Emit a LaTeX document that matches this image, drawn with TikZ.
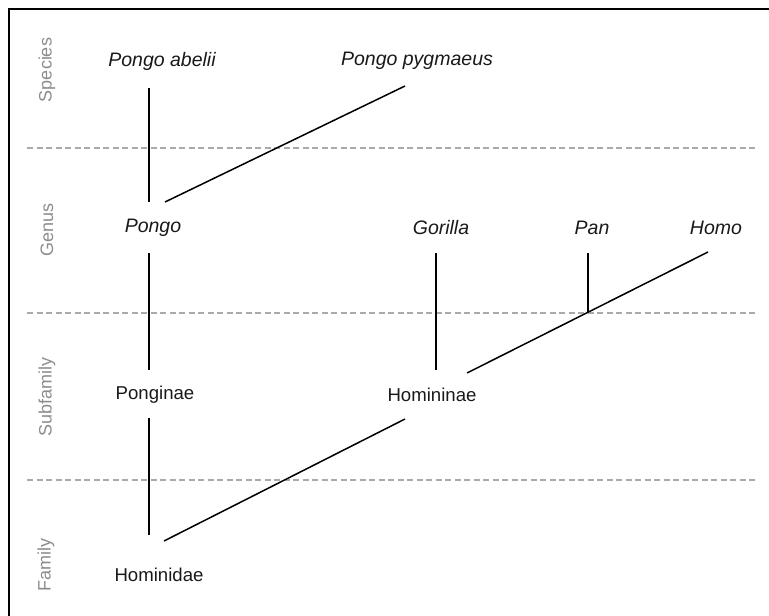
\documentclass[tikz,border=0pt]{standalone}
\usepackage{fontspec}
\setmainfont{Liberation Sans}
\usepackage{tikz}
\usetikzlibrary{positioning,calc}
\usepackage{xcolor}
\definecolor{taxtext}{RGB}{25,25,25}
\definecolor{rankgray}{RGB}{140,140,140}
\definecolor{dashgray}{RGB}{170,170,170}

\begin{document}
\begin{tikzpicture}[
    x=1pt,y=-1pt,
    taxon/.style={inner sep=0pt,text=taxtext,font=\fontsize{18.6}{22}\selectfont},
    genus/.style={taxon,font=\fontsize{19.5}{22}\selectfont\itshape},
    rank/.style={inner sep=0pt,rotate=90,text=rankgray,font=\fontsize{18}{22}\selectfont},
    divider/.style={dashgray,line width=1.6pt,dash pattern=on 6pt off 3.5pt},
    branch/.style={black,line width=1.5pt}
]
\useasboundingbox (0,0) rectangle (769,616);
\draw[line width=1.6pt] (769,9) -- (9,9) -- (9,616);

% rank rows
\node[rank] (species) at (47,70) {Species};
\node[rank] (genusrow) at (47,230) {Genus};
\node[rank] (subfamily) at (47,397) {Subfamily};
\node[rank] (family) at (46,565) {Family};

\coordinate (d1l) at (27,148); \coordinate (d1r) at (756,148);
\coordinate (d2l) at (27,313); \coordinate (d2r) at (756,313);
\coordinate (d3l) at (27,480); \coordinate (d3r) at (756,480);
\draw[divider] (d1l) -- (d1r);
\draw[divider] (d2l) -- (d2r);
\draw[divider] (d3l) -- (d3r);

% taxa
\node[genus] (abelii) at (162,61) {Pongo abelii};
\node[genus] (pygmaeus) at (417,61) {Pongo pygmaeus};
\node[genus] (pongo) at (153,228) {Pongo};
\node[genus] (gorilla) at (441,228) {Gorilla};
\node[genus] (pan) at (592,228) {Pan};
\node[genus] (homo) at (716,228) {Homo};
\node[taxon] (ponginae) at (155,395) {Ponginae};
\node[taxon] (homininae) at (432,395) {Homininae};
\node[taxon] (hominidae) at (159,575) {Hominidae};

% branch ends
\coordinate (abelii-b) at (149,88);
\coordinate (pygmaeus-b) at (405,86);
\coordinate (pongo-t1) at (149,202);
\coordinate (pongo-t2) at (165,202);
\coordinate (pongo-b) at (149,253);
\coordinate (gorilla-b) at (436,253);
\coordinate (pan-b) at (588,253);
\coordinate (homo-b) at (708,252);
\coordinate (pan-join) at (588,312);
\coordinate (ponginae-t) at (149,370);
\coordinate (ponginae-b) at (149,418);
\coordinate (gorilla-t) at (436,370);
\coordinate (homininae-t) at (467,373);
\coordinate (homininae-b) at (405,419);
\coordinate (hominidae-t1) at (149,535);
\coordinate (hominidae-t2) at (164,541);

\draw[branch] (abelii-b) -- (pongo-t1);
\draw[branch] (pygmaeus-b) -- (pongo-t2);
\draw[branch] (pongo-b) -- (ponginae-t);
\draw[branch] (gorilla-b) -- (gorilla-t);
\draw[branch] (pan-b) -- (pan-join);
\draw[branch] (homo-b) -- (homininae-t);
\draw[branch] (ponginae-b) -- (hominidae-t1);
\draw[branch] (homininae-b) -- (hominidae-t2);
\end{tikzpicture}
\end{document}
